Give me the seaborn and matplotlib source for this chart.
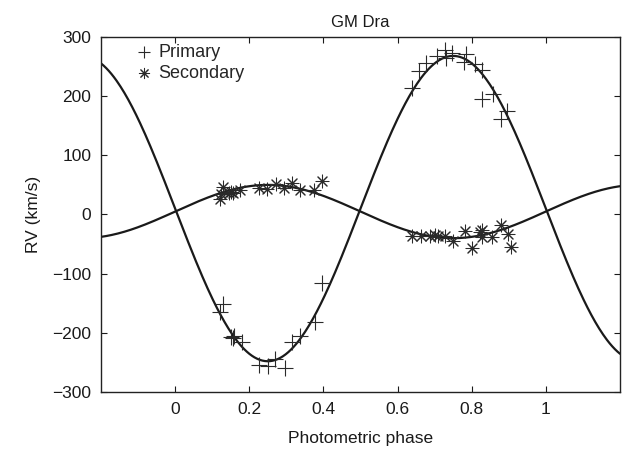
import numpy as np
import pandas as pd
import matplotlib
matplotlib.use("Agg")
import matplotlib.pyplot as plt
import seaborn as sns

# ---- data ----
prim_phase = [0.121, 0.130, 0.150, 0.155, 0.160, 0.180, 0.225, 0.251, 0.270, 0.296, 0.314, 0.337, 0.377, 0.397,
              0.638, 0.659, 0.678, 0.707, 0.728, 0.730, 0.748, 0.784, 0.779, 0.809, 0.827, 0.827, 0.858, 0.896, 0.880]
prim_rv = [-164, -151, -207, -209, -206, -215, -255, -256, -245, -260, -215, -206, -181, -115,
           214, 243, 256, 268, 278, 264, 273, 272, 258, 255, 244, 196, 203, 175, 162]

sec_phase = [0.121, 0.123, 0.130, 0.145, 0.150, 0.155, 0.175, 0.225, 0.249, 0.271, 0.294, 0.314, 0.337, 0.375, 0.397,
             0.638, 0.662, 0.687, 0.700, 0.710, 0.728, 0.750, 0.782, 0.802, 0.822, 0.829, 0.827, 0.854, 0.880, 0.898, 0.905]
sec_rv = [27, 35, 46, 37, 38, 36, 42, 45, 43, 52, 45, 54, 42, 41, 56,
          -37, -37, -36, -35, -36, -37, -44, -28, -56, -30, -27, -38, -38, -17, -33, -55]

# orbital model parameters (circular orbit fit)
gamma1 = 10.0
gamma2 = 5.0
K1 = 258.0
K2 = 45.0

xticks = [0, 0.2, 0.4, 0.6, 0.8, 1]
xticklabels = ["0", "0.2", "0.4", "0.6", "0.8", "1"]
yticks = [-300, -200, -100, 0, 100, 200, 300]

phase_grid = np.linspace(-0.2, 1.2, 400)
model = pd.DataFrame({
    "phase": phase_grid,
    "prim": gamma1 - K1 * np.sin(2 * np.pi * phase_grid),
    "sec": gamma2 + K2 * np.sin(2 * np.pi * phase_grid),
})
prim_df = pd.DataFrame({"phase": prim_phase, "rv": prim_rv})
sec_df = pd.DataFrame({"phase": sec_phase, "rv": sec_rv})

sns.set_style("ticks")
plt.rcParams["font.family"] = ["Liberation Sans", "DejaVu Sans"]
plt.rcParams["axes.unicode_minus"] = True

fig = plt.figure(figsize=(6.25, 4.51), dpi=100)
ax = fig.add_axes([0.1616, 0.1308, 0.8304, 0.7872])

sns.lineplot(data=model, x="phase", y="prim", color="#1a1a1a", linewidth=1.6, ax=ax, sort=False)
sns.lineplot(data=model, x="phase", y="sec", color="#1a1a1a", linewidth=1.6, ax=ax, sort=False)

sns.scatterplot(data=prim_df, x="phase", y="rv", marker="+", s=120, color="#2a2a2a",
                linewidth=0.8, ax=ax, label="Primary", zorder=3)
sns.scatterplot(data=sec_df, x="phase", y="rv", marker=(8, 2, 0), s=85, color="#2a2a2a",
                linewidth=0.75, ax=ax, label="Secondary", zorder=3)

ax.set_xlim(-0.2, 1.2)
ax.set_ylim(-300, 300)
ax.set_xticks(xticks)
ax.set_xticklabels(xticklabels)
ax.set_yticks(yticks)
ax.tick_params(direction="in", length=4, width=0.8, top=True, right=True, labelsize=12.5, pad=7,
               colors="#1a1a1a")
for s in ax.spines.values():
    s.set_visible(True)
    s.set_linewidth(1.0)
    s.set_color("#222222")

ax.set_title("GM Dra", fontsize=12, pad=7, color="#1a1a1a")
ax.set_xlabel("Photometric phase", fontsize=12.5, labelpad=10, color="#1a1a1a")
ax.set_ylabel("RV (km/s)", fontsize=12.5, labelpad=8, color="#1a1a1a")

leg = ax.legend(loc="upper left", frameon=False, fontsize=13, handletextpad=0.3,
                labelspacing=0.2, borderaxespad=0.0, bbox_to_anchor=(0.052, 1.0),
                handlelength=1.0, markerscale=0.8)

fig.savefig("out.png", dpi=100)
